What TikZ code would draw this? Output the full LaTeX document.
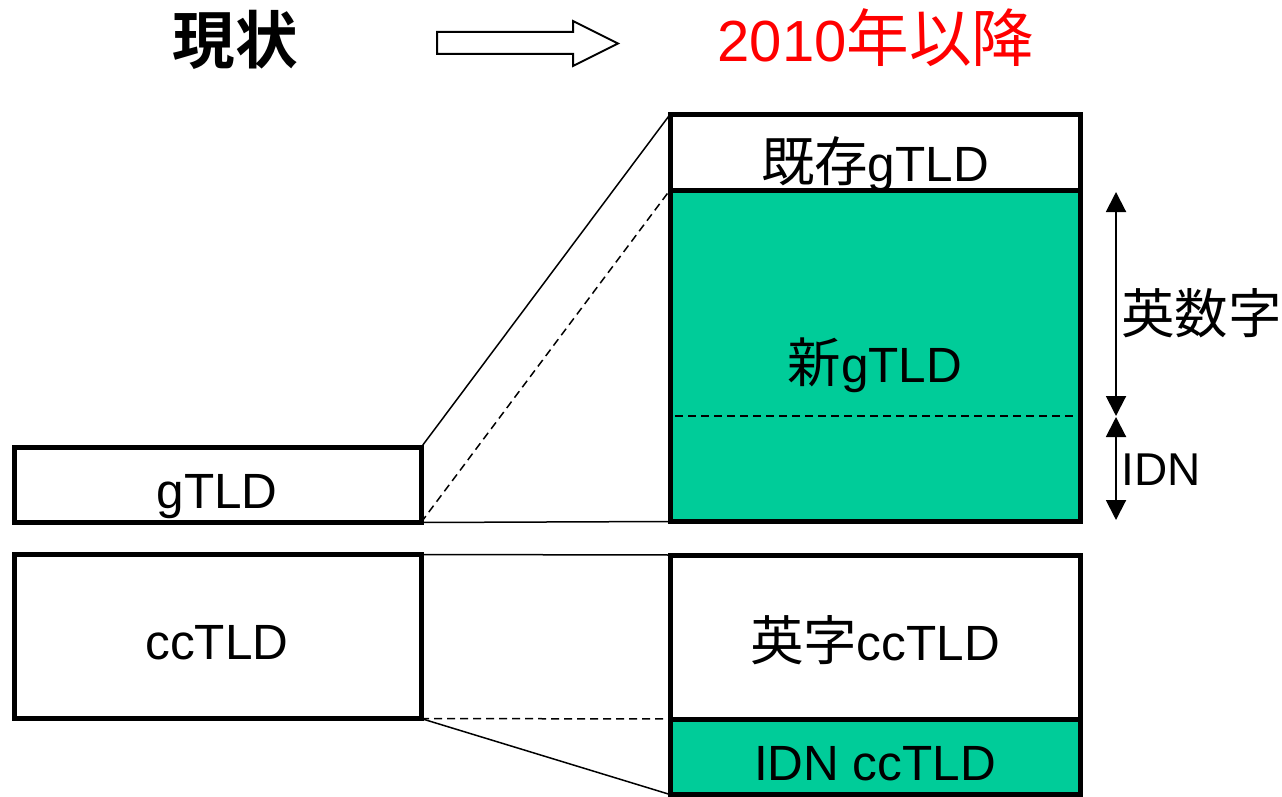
\documentclass[tikz,border=0pt]{standalone}
\usepackage{fontspec}
\setmainfont{Liberation Sans}
\newfontfamily\cjk{Noto Sans CJK JP}[Scale=1.08]
\newfontfamily\cjkb{Noto Sans CJK JP Bold}[Scale=1.08]
\usetikzlibrary{arrows.meta}
\definecolor{tealgreen}{RGB}{0,204,153}
\definecolor{titlered}{RGB}{255,0,0}
\begin{document}
\begin{tikzpicture}[x=1pt,y=-1pt,
  box/.style={draw, line width=5pt, outer sep=0pt, inner sep=0pt},
  lbl/.style={anchor=base, inner sep=0pt, font=\fontsize{49.5}{49.5}\selectfont},
  conn/.style={line width=1.5pt},
  dconn/.style={line width=1.5pt, dash pattern=on 8pt off 5pt},
  dimarrow/.style={line width=2pt, {Triangle[width=20pt,length=20pt]}-{Triangle[width=20pt,length=20pt]}}]
\useasboundingbox (0,0) rectangle (1282,797);

% titles
\node[inner sep=0pt, anchor=base, font=\fontsize{58}{58}\selectfont] (now) at (235,64) {\cjkb 現状};
\node[inner sep=0pt, anchor=base, font=\fontsize{58}{58}\selectfont, text=titlered] (after) at (876,62) {2010{\cjk 年以降}};
\draw[line width=2pt, fill=white] (437,32) -- (573,32) -- (573,21) -- (618,43.5) -- (573,66) -- (573,54) -- (437,54) -- cycle;

% left boxes
\node[box, minimum width=407pt, minimum height=75pt] (gL) at (217.5,485) {};
\node[box, minimum width=407pt, minimum height=164pt] (ccL) at (217.5,636.5) {};

% right boxes
\node[box, minimum width=410pt, minimum height=331.5pt, fill=tealgreen] (newR) at (875,355.75) {};
\node[box, minimum width=410pt, minimum height=75.5pt] (exR) at (875,152.25) {};
\node[box, minimum width=410pt, minimum height=75.5pt, fill=tealgreen] (idnR) at (875,756.75) {};
\node[box, minimum width=410pt, minimum height=164pt] (ccR) at (875,637) {};

% dashed divider inside new gTLD
\coordinate (d1) at (675,416);
\coordinate (d2) at (1078,416);
\draw[dconn] (d1) -- (d2);

% connectors
\draw[conn] (gL.north east) -- (exR.north west);
\draw[dconn] (gL.south east) -- (newR.north west);
\draw[conn] (gL.south east) -- (newR.south west);
\draw[conn] (ccL.north east) -- (ccR.north west);
\draw[dconn] (ccL.south east) -- (ccR.south west);
\draw[conn] (ccL.south east) -- (idnR.south west);

% labels
\node[lbl] (t-gL) at (217,508) {gTLD};
\node[lbl] (t-ccL) at (217,659) {ccTLD};
\node[lbl] (t-exR) at (875,181) {{\cjk 既存}gTLD};
\node[lbl] (t-newR) at (875,382) {{\cjk 新}gTLD};
\node[lbl] (t-ccR) at (875,660) {{\cjk 英字}ccTLD};
\node[lbl] (t-idnR) at (875,780) {IDN ccTLD};

% dimension arrows
\coordinate (a1) at (1116,192);
\coordinate (a2) at (1116,416);
\coordinate (a3) at (1116,417);
\coordinate (a4) at (1116,520);
\draw[dimarrow] (a1) -- (a2);
\draw[dimarrow] (a3) -- (a4);
\node[lbl, anchor=base west] (t-alnum) at (1121,333) {\cjk 英数字};
\node[lbl, anchor=base west, font=\fontsize{46}{46}\selectfont] (t-idn) at (1121,485) {IDN};
\end{tikzpicture}
\end{document}
